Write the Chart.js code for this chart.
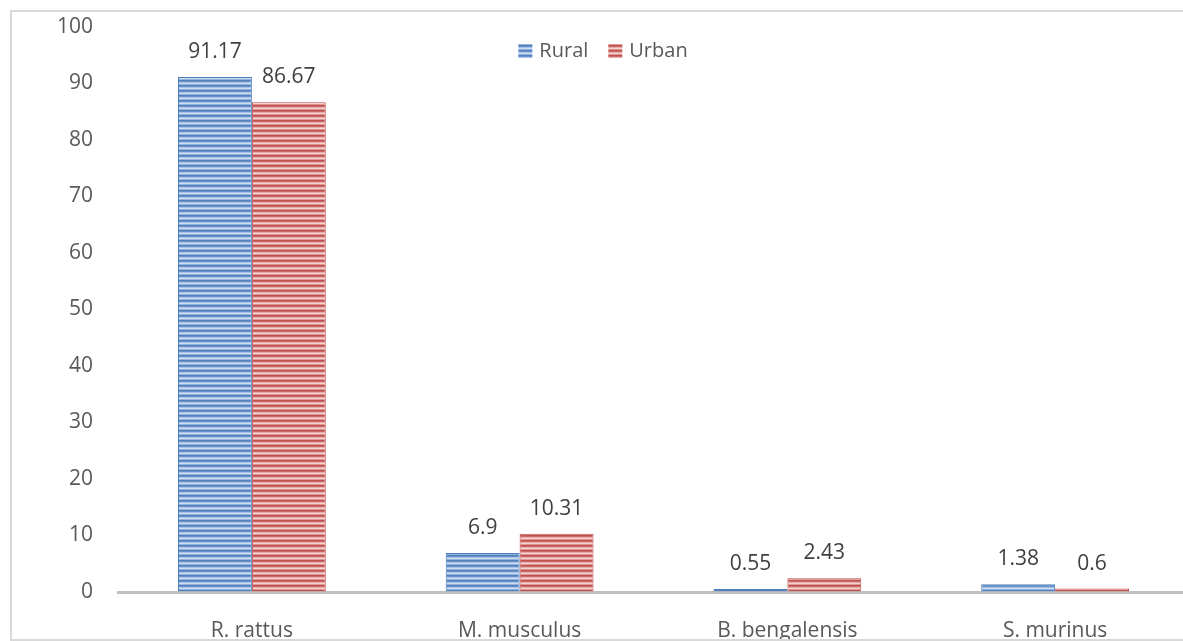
<!DOCTYPE html>
<html>
<head>
<meta charset="utf-8">
<script src="https://cdn.jsdelivr.net/npm/chart.js@4/dist/chart.umd.min.js"></script>
<style>
  html, body { margin: 0; padding: 0; background: #ffffff; overflow: hidden; width: 1183px; height: 641px; }
  #wrap { position: absolute; left: 0; top: 0; width: 1200px; height: 641px; }
  #frame { position: absolute; left: 10px; top: 10px; width: 1300px; height: 627px; border: 2px solid #d9d9d9; pointer-events: none; z-index: 2; }
</style>
</head>
<body>
<div id="wrap"><canvas id="c"></canvas></div>
<div id="frame"></div>
<script>
// ---- data ----
const categories = ['R. rattus', 'M. musculus', 'B. bengalensis', 'S. murinus'];
const seriesNames = ['Rural', 'Urban'];
const ruralValues = [91.17, 6.9, 0.55, 1.38];
const urbanValues = [86.67, 10.31, 2.43, 0.6];
const yMin = 0, yMax = 100, yStep = 10;

// ---- styles ----
const FONT = "'Open Sans', 'Noto Sans', sans-serif";
const TEXT = '#595959';

function stripes(colors) {
  const c = document.createElement('canvas');
  c.width = 1; c.height = colors.length;
  const x = c.getContext('2d');
  colors.forEach((col, i) => { x.fillStyle = col; x.fillRect(0, i, 1, 1); });
  return x.createPattern(c, 'repeat');
}
const blueFill = stripes(['#4f81bd', '#6990cb', '#a9c2e6', '#cddcf1', '#94b2de']);
const redFill  = stripes(['#c0504d', '#cb6a68', '#e5acab', '#f3d3d2', '#de9896']);

const dataLabels = {
  id: 'dataLabels',
  afterDatasetsDraw(chart) {
    const ctx = chart.ctx;
    ctx.save();
    ctx.font = "21px " + FONT;
    ctx.fillStyle = '#404040';
    ctx.textAlign = 'center';
    ctx.textBaseline = 'middle';
    chart.data.datasets.forEach((ds, i) => {
      chart.getDatasetMeta(i).data.forEach((el, j) => {
        ctx.fillText(String(ds.data[j]), el.x, el.y - 25);
      });
    });
    ctx.restore();
  }
};

const customLegend = {
  id: 'customLegend',
  afterDraw(chart) {
    const ctx = chart.ctx;
    const box = 14, gap = 7, spacing = 20;
    ctx.save();
    ctx.font = "20px " + FONT;
    ctx.textBaseline = 'middle';
    ctx.textAlign = 'left';
    const items = chart.data.datasets.map(ds => ({ text: ds.label, fill: ds.backgroundColor, w: ctx.measureText(ds.label).width }));
    let total = 0;
    items.forEach((it, i) => { total += box + gap + it.w + (i < items.length - 1 ? spacing : 0); });
    const cx = 603, cy = 51;
    let x = cx - total / 2;
    items.forEach(it => {
      ctx.fillStyle = it.fill;
      ctx.fillRect(x, cy - box / 2, box, box);
      x += box + gap;
      ctx.fillStyle = TEXT;
      ctx.fillText(it.text, x, cy);
      x += it.w + spacing;
    });
    ctx.restore();
  }
};

new Chart(document.getElementById('c'), {
  type: 'bar',
  data: {
    labels: categories,
    datasets: [
      { label: seriesNames[0], data: ruralValues, backgroundColor: blueFill, borderColor: '#4a7ebb', borderWidth: 1 },
      { label: seriesNames[1], data: urbanValues, backgroundColor: redFill, borderColor: '#be4b48', borderWidth: 1 }
    ]
  },
  options: {
    responsive: true,
    maintainAspectRatio: false,
    animation: false,
    layout: { padding: { top: 27, right: 11, bottom: 0, left: 0 } },
    datasets: { bar: { categoryPercentage: 0.552, barPercentage: 1.0 } },
    plugins: { legend: { display: false }, tooltip: { enabled: false } },
    scales: {
      x: {
        grid: { display: false, drawTicks: false },
        border: { display: true, color: '#bfbfbf', width: 3 },
        ticks: { color: TEXT, font: { family: FONT, size: 21 }, padding: 26, maxRotation: 0 },
        afterFit(s) { s.height = 49; }
      },
      y: {
        min: yMin, max: yMax,
        grid: { display: true, color: 'rgba(0,0,0,0)', drawOnChartArea: false, drawTicks: true, tickLength: 25 },
        border: { display: false },
        ticks: { stepSize: yStep, color: TEXT, font: { family: FONT, size: 21 }, padding: 0 },
        afterFit(s) { s.width = 118; }
      }
    }
  },
  plugins: [dataLabels, customLegend]
});
</script>
</body>
</html>
